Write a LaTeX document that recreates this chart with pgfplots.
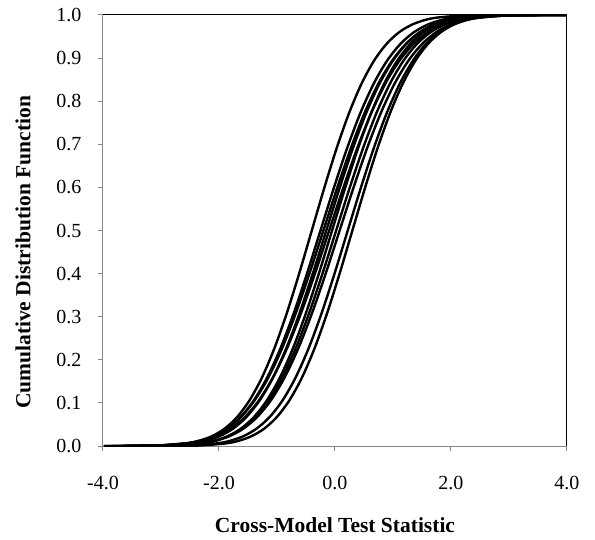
\documentclass[border=0pt]{standalone}
\usepackage{fontspec}
\setmainfont{Liberation Serif}
\usepackage{pgfplots}
\usepackage{pgfplotstable}
\pgfplotsset{compat=1.18}
\definecolor{axgray}{HTML}{868686}
% cumulative probability p and the x value of each curve at that probability
\pgfplotstableread{
p       x1      x2     x3      x4     x5      x6      x7      x8      x9      x10
0.00003 -3.84   -3.93  -3.99   -3.83  -3.98   -3.65   -3.70   -3.72   -3.38   -3.18
0.00023 -3.41   -3.47  -3.525  -3.37  -3.495  -3.20   -3.235  -3.245  -2.93   -2.745
0.00135 -2.98   -3.01  -3.05   -2.91  -3.01   -2.75   -2.77   -2.77   -2.48   -2.31
0.00621 -2.55   -2.55  -2.575  -2.45  -2.525  -2.30   -2.305  -2.295  -2.03   -1.875
0.01222 -2.335  -2.32  -2.3375 -2.22  -2.2825 -2.075  -2.0725 -2.0575 -1.805  -1.6575
0.02275 -2.12   -2.09  -2.10   -1.99  -2.04   -1.85   -1.84   -1.82   -1.58   -1.44
0.04006 -1.905  -1.86  -1.8625 -1.76  -1.7975 -1.625  -1.6075 -1.5825 -1.355  -1.2225
0.06681 -1.69   -1.63  -1.625  -1.53  -1.555  -1.40   -1.375  -1.345  -1.13   -1.005
0.10565 -1.475  -1.40  -1.3875 -1.30  -1.3125 -1.175  -1.1425 -1.1075 -0.905  -0.7875
0.15866 -1.26   -1.17  -1.15   -1.07  -1.07   -0.95   -0.91   -0.87   -0.68   -0.57
0.22663 -1.045  -0.94  -0.9125 -0.84  -0.8275 -0.725  -0.6775 -0.6325 -0.455  -0.3525
0.30854 -0.83   -0.71  -0.675  -0.61  -0.585  -0.50   -0.445  -0.395  -0.23   -0.135
0.40129 -0.615  -0.48  -0.4375 -0.38  -0.3425 -0.275  -0.2125 -0.1575 -0.005  0.0825
0.50000 -0.40   -0.25  -0.20   -0.15  -0.10   -0.05   0.02    0.08    0.22    0.30
0.59871 -0.185  -0.02  0.0375  0.08   0.1425  0.175   0.2525  0.3175  0.445   0.5175
0.69146 0.03    0.21   0.275   0.31   0.385   0.40    0.485   0.555   0.67    0.735
0.77337 0.245   0.44   0.5125  0.54   0.6275  0.625   0.7175  0.7925  0.895   0.9525
0.84134 0.46    0.67   0.75    0.77   0.87    0.85    0.95    1.03    1.12    1.17
0.89435 0.675   0.90   0.9875  1.00   1.1125  1.075   1.1825  1.2675  1.345   1.3875
0.93319 0.89    1.13   1.225   1.23   1.355   1.30    1.415   1.505   1.57    1.605
0.95994 1.105   1.36   1.4625  1.46   1.5975  1.525   1.6475  1.7425  1.795   1.8225
0.97725 1.32    1.59   1.70    1.69   1.84    1.75    1.88    1.98    2.02    2.04
0.98778 1.535   1.82   1.9375  1.92   2.0825  1.975   2.1125  2.2175  2.245   2.2575
0.99379 1.75    2.05   2.175   2.15   2.325   2.20    2.345   2.455   2.47    2.475
0.99865 2.18    2.51   2.65    2.61   2.81    2.65    2.81    2.93    2.92    2.91
0.99977 2.61    2.97   3.125   3.07   3.295   3.10    3.275   3.405   3.37    3.345
0.99997 3.04    3.43   3.60    3.53   3.78    3.55    3.74    3.88    3.82    3.78
1.00000 4.00    4.00   4.00    4.00   4.00    4.00    4.00    4.00    4.00    4.00
}\cdfdata
\begin{document}
\begin{tikzpicture}
\path[use as bounding box] (-103pt,-93pt) rectangle (492pt,446pt);
\begin{axis}[
  at={(0pt,0pt)}, anchor=south west,
  scale only axis, width=464pt, height=431pt,
  xmin=-4, xmax=4, ymin=0, ymax=1,
  axis lines=left,
  axis line style={axgray, line width=1pt, -},
  xtick={-4,-2,0,2,4},
  xticklabels={-4.0,-2.0,0.0,2.0,4.0},
  ytick={0,0.1,0.2,0.3,0.4,0.5,0.6,0.7,0.8,0.9,1.0},
  yticklabels={0.0,0.1,0.2,0.3,0.4,0.5,0.6,0.7,0.8,0.9,1.0},
  tick align=outside,
  major tick length=5pt,
  tick style={axgray, line width=1pt},
  ticklabel style={font=\fontsize{20}{22}\selectfont, text=black},
  xticklabel style={yshift=-22pt},
  yticklabel style={xshift=-13pt},
  xlabel={\textbf{Cross-Model Test Statistic}},
  ylabel={\textbf{Cumulative Distribution Function}},
  label style={font=\fontsize{21.5}{24}\selectfont},
  xlabel style={at={(rel axis cs:0.5,0)}, anchor=center, yshift=-79pt},
  ylabel style={at={(rel axis cs:0,0.5)}, anchor=center, yshift=80pt, xshift=-22pt},
  cycle list={{black, solid}},
  every axis plot post/.append style={black, solid, line width=2.4pt, smooth, no markers},
  clip=true,
]
\addplot table[x=x1,y=p]{\cdfdata};
\addplot table[x=x2,y=p]{\cdfdata};
\addplot table[x=x3,y=p]{\cdfdata};
\addplot table[x=x4,y=p]{\cdfdata};
\addplot table[x=x5,y=p]{\cdfdata};
\addplot table[x=x6,y=p]{\cdfdata};
\addplot table[x=x7,y=p]{\cdfdata};
\addplot table[x=x8,y=p]{\cdfdata};
\addplot table[x=x9,y=p]{\cdfdata};
\addplot table[x=x10,y=p]{\cdfdata};
\draw[black, line width=1pt] (rel axis cs:0,1) -- (rel axis cs:1,1) -- (rel axis cs:1,0);
\end{axis}
\end{tikzpicture}
\end{document}
